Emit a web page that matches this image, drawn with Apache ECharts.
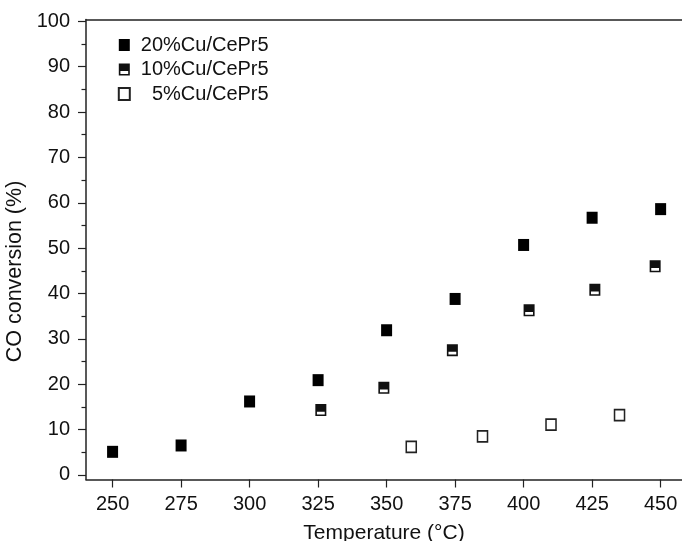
<!DOCTYPE html>
<html>
<head>
<meta charset="utf-8">
<script src="https://cdn.jsdelivr.net/npm/echarts@6/dist/echarts.min.js"></script>
<style>
html,body{margin:0;padding:0;background:#fff;}
#chart{width:682px;height:541px;}
</style>
</head>
<body>
<div id="chart"></div>
<script>
// ---- data ----
const seriesNames = ['20%Cu/CePr5', '10%Cu/CePr5', '5%Cu/CePr5'];
const temps20 = [250, 275, 300, 325, 350, 375, 400, 425, 450];
const conv20  = [5.1, 6.5, 16.2, 20.9, 31.9, 38.8, 50.7, 56.7, 58.6];
const temps10 = [326, 349, 374, 402, 426, 448];
const conv10  = [14.3, 19.2, 27.5, 36.3, 40.8, 46.0];
const temps5  = [359, 385, 410, 435];
const conv5   = [6.2, 8.5, 11.1, 13.2];
const xTicks  = [250, 275, 300, 325, 350, 375, 400, 425, 450];
const yTicks  = [0, 10, 20, 30, 40, 50, 60, 70, 80, 90, 100];
const yMinorTicks = [5, 15, 25, 35, 45, 55, 65, 75, 85, 95];

const pair = (xs, ys) => xs.map((x, i) => [x, ys[i]]);

const halfSymbol = 'path://M0,0 L11,0 L11,12 L0,12 Z M1.6,7.6 L1.6,10.4 L9.4,10.4 L9.4,7.6 Z';

const axisColor = '#222';
const font = 'Liberation Sans, Arial, sans-serif';

const chart = echarts.init(document.getElementById('chart'), null, {renderer: 'canvas'});
chart.setOption({
  backgroundColor: '#fff',
  animation: false,
  textStyle: {fontFamily: font},
  grid: {left: 86, right: 0, top: 19.5, bottom: 61.5, containLabel: false, outerBoundsMode: 'none'},
  legend: {
    orient: 'vertical',
    left: 112.8,
    top: 30,
    itemWidth: 11,
    itemHeight: 12,
    itemGap: 4.5,
    data: seriesNames,
    formatter: function (n) { return n === '5%Cu/CePr5' ? '  ' + n : n; },
    textStyle: {fontSize: 20, color: '#111', fontFamily: font, padding: [0, 0, 0, 6]}
  },
  xAxis: [{
    type: 'value',
    min: 240.3,
    max: 457.8,
    position: 'bottom',
    name: 'Temperature (°C)',
    nameLocation: 'middle',
    nameGap: 43,
    nameTextStyle: {fontSize: 21, color: '#111', fontFamily: font},
    axisLine: {show: true, onZero: false, lineStyle: {color: axisColor, width: 1.5}},
    axisTick: {show: true, inside: false, length: 8, customValues: xTicks, lineStyle: {color: axisColor, width: 1.2}},
    axisLabel: {customValues: xTicks, fontSize: 20, color: '#111', margin: 15, fontFamily: font},
    splitLine: {show: false}
  }, {
    type: 'value',
    min: 240.3,
    max: 457.8,
    position: 'top',
    axisLine: {show: true, onZero: false, lineStyle: {color: axisColor, width: 1.5}},
    axisTick: {show: false},
    axisLabel: {show: false},
    splitLine: {show: false}
  }],
  yAxis: [{
    type: 'value',
    min: -1,
    max: 100.4,
    position: 'left',
    name: 'CO conversion (%)',
    nameLocation: 'middle',
    nameGap: 55,
    nameRotate: 90,
    nameTextStyle: {fontSize: 21.5, color: '#111', fontFamily: font, padding: [0, 44, 0, 0]},
    axisLine: {show: true, onZero: false, lineStyle: {color: axisColor, width: 1.5}},
    axisTick: {show: true, inside: false, length: 8, customValues: yTicks, lineStyle: {color: axisColor, width: 1.2}},
    axisLabel: {customValues: yTicks, fontSize: 20, color: '#111', margin: 16, fontFamily: font},
    splitLine: {show: false}
  }, {
    type: 'value',
    min: -1,
    max: 100.4,
    position: 'left',
    axisLine: {show: false},
    axisTick: {show: true, inside: false, length: 4.5, customValues: yMinorTicks, lineStyle: {color: axisColor, width: 1.2}},
    axisLabel: {show: false},
    splitLine: {show: false}
  }],
  series: [{
    name: seriesNames[0],
    type: 'scatter',
    data: pair(temps20, conv20),
    symbol: 'rect',
    symbolSize: [11, 12],
    itemStyle: {color: '#000', opacity: 1}
  }, {
    name: seriesNames[1],
    type: 'scatter',
    data: pair(temps10, conv10),
    symbol: halfSymbol,
    symbolSize: [11, 12],
    itemStyle: {color: '#111', opacity: 1}
  }, {
    name: seriesNames[2],
    type: 'scatter',
    data: pair(temps5, conv5),
    symbol: 'rect',
    symbolSize: [10, 11],
    itemStyle: {color: '#fff', borderColor: '#222', borderWidth: 1.6, opacity: 1}
  }]
});
</script>
</body>
</html>
